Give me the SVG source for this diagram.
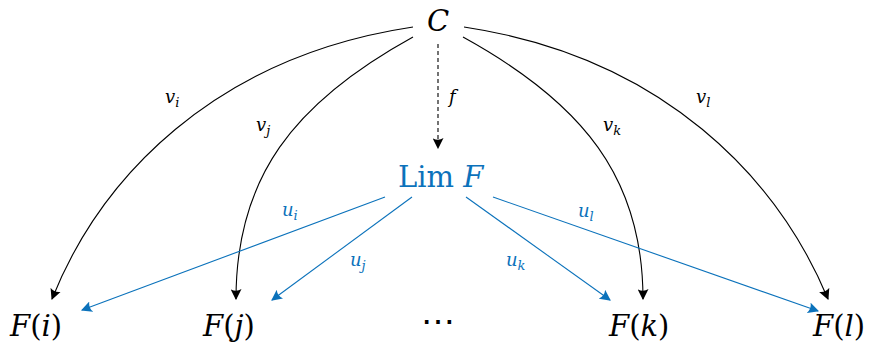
<svg xmlns="http://www.w3.org/2000/svg" width="874" height="344" viewBox="0 0 874 344">
<style>
text{font-family:"DejaVu Serif","Liberation Serif",serif;fill:#000}
.big{font-size:29px}
.lab{font-size:18px;font-style:italic}
.sub{font-size:13px;font-style:italic}
.it{font-style:italic}
.blue{fill:#0b72bb}
.k{fill:none;stroke:#000;stroke-width:1.1}
.b{fill:none;stroke:#0b72bb;stroke-width:1.1}
</style>
<defs>
<marker id="ak" viewBox="0 0 10 10" refX="9" refY="5" markerWidth="11" markerHeight="11" markerUnits="userSpaceOnUse" orient="auto">
<path d="M0,0 L10,5 L0,10 Q3,5 0,0 Z" fill="#000"/>
</marker>
<marker id="ab" viewBox="0 0 10 10" refX="9" refY="5" markerWidth="11" markerHeight="11" markerUnits="userSpaceOnUse" orient="auto">
<path d="M0,0 L10,5 L0,10 Q3,5 0,0 Z" fill="#0b72bb"/>
</marker>
</defs>
<g id="connectors">
<path class="k" d="M413,27 C213,57 100,179 52,299" marker-end="url(#ak)"/>
<path class="k" d="M413,37 C293,103 236,178 236,299" marker-end="url(#ak)"/>
<path class="k" d="M463,37 C583,103 643,178 643,299" marker-end="url(#ak)"/>
<path class="k" d="M464,27 C664,57 778,179 828,299" marker-end="url(#ak)"/>
<path class="k" d="M438,44 L438,148" stroke-dasharray="4,3" marker-end="url(#ak)"/>
<path class="b" d="M385,197 L82,310" marker-end="url(#ab)"/>
<path class="b" d="M412,197 L272,300" marker-end="url(#ab)"/>
<path class="b" d="M466,197 L610,300" marker-end="url(#ab)"/>
<path class="b" d="M493,197 L818,311" marker-end="url(#ab)"/>
<text class="lab" x="165" y="103">v<tspan class="sub" dy="4">i</tspan></text>
<text class="lab" x="256" y="131">v<tspan class="sub" dy="4">j</tspan></text>
<text class="lab" x="603" y="131">v<tspan class="sub" dy="4">k</tspan></text>
<text class="lab" x="696" y="103">v<tspan class="sub" dy="4">l</tspan></text>
<text class="lab" x="449" y="103">f</text>
<text class="lab blue" x="282" y="216">u<tspan class="sub blue" dy="4">i</tspan></text>
<text class="lab blue" x="350" y="266">u<tspan class="sub blue" dy="4">j</tspan></text>
<text class="lab blue" x="506" y="266">u<tspan class="sub blue" dy="4">k</tspan></text>
<text class="lab blue" x="578" y="217">u<tspan class="sub blue" dy="4">l</tspan></text>
</g>
<g id="C"><text class="big it" x="438" y="31" text-anchor="middle">C</text></g>
<g id="LimF"><text class="big blue" x="398" y="187">Lim <tspan class="it">F</tspan></text></g>
<g id="Fi"><text class="big" x="10" y="336"><tspan class="it">F</tspan>(<tspan class="it">i</tspan>)</text></g>
<g id="Fj"><text class="big" x="203" y="336"><tspan class="it">F</tspan>(<tspan class="it">j</tspan>)</text></g>
<g id="dots"><text x="438" y="333" text-anchor="middle" font-size="34">⋯</text></g>
<g id="Fk"><text class="big" x="609" y="336"><tspan class="it">F</tspan>(<tspan class="it">k</tspan>)</text></g>
<g id="Fl"><text class="big" x="813" y="336"><tspan class="it">F</tspan>(<tspan class="it">l</tspan>)</text></g>
</svg>
